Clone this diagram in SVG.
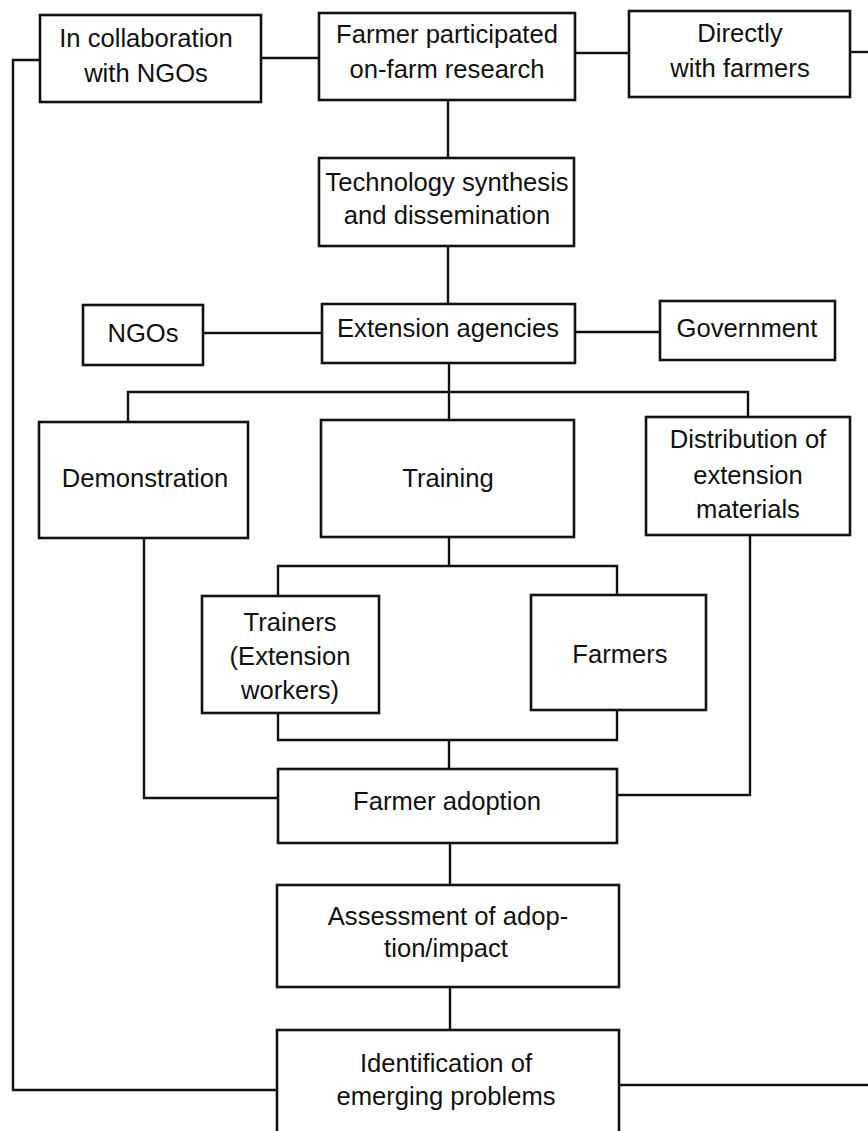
<svg xmlns="http://www.w3.org/2000/svg" width="868" height="1131" viewBox="0 0 868 1131">
<style>
.box{fill:#fff;stroke:#111;stroke-width:2.6}
.ln{fill:none;stroke:#111;stroke-width:2.4}
text{font-family:"Liberation Sans",Arial,sans-serif;font-size:25.6px;fill:#111;text-anchor:middle}
</style>
<rect width="868" height="1131" fill="#fff"/>
<g id="connectors">
<path class="ln" d="M40 60 H13 V1090 H277"/>
<path class="ln" d="M261 58 H319"/>
<path class="ln" d="M575 53 H629"/>
<path class="ln" d="M850 52 H868"/>
<path class="ln" d="M448 100 V158"/>
<path class="ln" d="M448 246 V304"/>
<path class="ln" d="M203 333 H322"/>
<path class="ln" d="M575 332 H660"/>
<path class="ln" d="M449 363 V420"/>
<path class="ln" d="M128 422 V392 H748 V417"/>
<path class="ln" d="M449 537 V566"/>
<path class="ln" d="M278 596 V566 H617 V595"/>
<path class="ln" d="M278 713 V740 H617 V710"/>
<path class="ln" d="M449 740 V769"/>
<path class="ln" d="M144 538 V798 H278"/>
<path class="ln" d="M750 535 V795 H617"/>
<path class="ln" d="M450 843 V885"/>
<path class="ln" d="M450 987 V1030"/>
<path class="ln" d="M619 1085 H868"/>
</g>
<g id="collab"><rect class="box" x="40" y="15" width="221" height="87"/><text x="146" y="47">In collaboration</text><text x="146" y="82">with NGOs</text></g>
<g id="fpr"><rect class="box" x="319" y="13" width="256" height="87"/><text x="447" y="43">Farmer participated</text><text x="447" y="78">on-farm research</text></g>
<g id="direct"><rect class="box" x="629" y="11" width="221" height="86"/><text x="740" y="42">Directly</text><text x="740" y="77">with farmers</text></g>
<g id="tech"><rect class="box" x="319" y="158" width="255" height="88"/><text x="447" y="191">Technology synthesis</text><text x="447" y="224">and dissemination</text></g>
<g id="ngos"><rect class="box" x="83" y="305" width="120" height="60"/><text x="143" y="342">NGOs</text></g>
<g id="ext"><rect class="box" x="322" y="304" width="253" height="59"/><text x="448" y="337">Extension agencies</text></g>
<g id="gov"><rect class="box" x="660" y="301" width="175" height="59"/><text x="747" y="337">Government</text></g>
<g id="demo"><rect class="box" x="39" y="422" width="209" height="116"/><text x="145" y="487">Demonstration</text></g>
<g id="training"><rect class="box" x="321" y="420" width="253" height="117"/><text x="448" y="487">Training</text></g>
<g id="distrib"><rect class="box" x="646" y="417" width="204" height="118"/><text x="748" y="448">Distribution of</text><text x="748" y="484">extension</text><text x="748" y="518">materials</text></g>
<g id="trainers"><rect class="box" x="202" y="596" width="177" height="117"/><text x="290" y="631">Trainers</text><text x="290" y="665">(Extension</text><text x="290" y="699">workers)</text></g>
<g id="farmers"><rect class="box" x="531" y="595" width="175" height="115"/><text x="620" y="663">Farmers</text></g>
<g id="adoption"><rect class="box" x="278" y="769" width="339" height="74"/><text x="447" y="810">Farmer adoption</text></g>
<g id="assess"><rect class="box" x="277" y="885" width="342" height="102"/><text x="448" y="925">Assessment of adop-</text><text x="446" y="957">tion/impact</text></g>
<g id="ident"><rect class="box" x="277" y="1030" width="342" height="104"/><text x="446" y="1072">Identification of</text><text x="446" y="1105">emerging problems</text></g>
</svg>
